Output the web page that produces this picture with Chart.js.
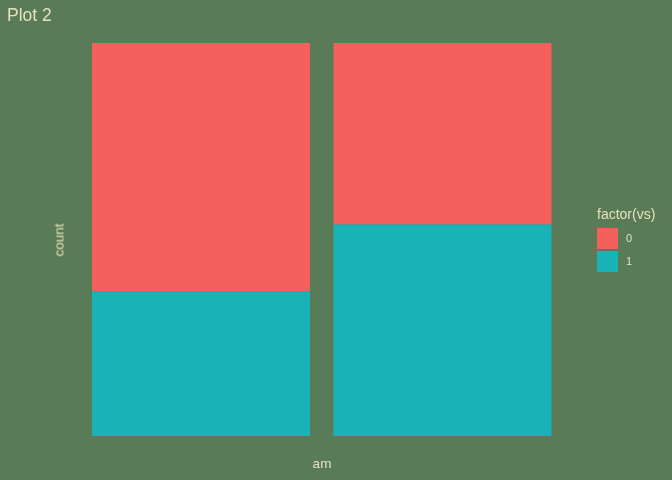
<!DOCTYPE html>
<html><head><meta charset="utf-8">
<script src="https://cdn.jsdelivr.net/npm/chart.js@4"></script>
<style>
html,body{margin:0;padding:0;background:#5a7b58;}
#wrap{position:relative;width:672px;height:480px;font-family:"Liberation Sans",Arial,sans-serif;color:#e4e2bc;}
canvas{position:absolute;left:0;top:0;}
.t{position:absolute;white-space:nowrap;}
</style></head><body>
<div id="wrap">
<canvas id="c" width="672" height="480"></canvas>
<div class="t" style="left:7px;top:5px;font-size:17.5px;">Plot 2</div>
<div class="t" id="xt" style="left:322px;top:456px;font-size:13.5px;transform:translateX(-50%);">am</div>
<div class="t" id="yt" style="left:59px;top:240px;font-size:13.5px;transform:translate(-50%,-50%) rotate(-90deg);">count</div>
<div id="leg"></div>
</div>
<script>
const categories = ["0", "1"];        // am
const vsLevels = ["0", "1"];          // factor(vs)
const vs0 = [12/19, 6/13];            // proportion vs=0
const vs1 = [7/19, 7/13];             // proportion vs=1
const colors = ["#f4605c", "#18b2b7"];

// legend (HTML)
const leg = document.getElementById('leg');
let html = '<div class="t" style="left:597px;top:206px;font-size:14px;">factor(vs)</div>';
vsLevels.forEach((l,i)=>{
  const top = 228 + i*23;
  html += `<div style="position:absolute;left:597px;top:${top}px;width:21px;height:21px;background:${colors[i]}"></div>`;
  html += `<div class="t" style="left:626px;top:${top+4}px;font-size:11px;">${l}</div>`;
});
leg.innerHTML = html;

const ds = [
  {label: vsLevels[1], data: vs1, backgroundColor: colors[1]},
  {label: vsLevels[0], data: vs0, backgroundColor: colors[0]}
];
new Chart(document.getElementById('c'), {
  type: 'bar',
  data: {labels: categories, datasets: ds},
  options: {
    responsive: false, animation: false,
    layout: {padding: {left: 80.25, right: 108.75, top: 23.4, bottom: 24.4}},
    datasets: {bar: {barPercentage: 1.0, categoryPercentage: 0.9027, borderWidth: 0}},
    plugins: {legend: {display: false}, tooltip: {enabled: false}},
    scales: {
      x: {stacked: true, display: false, offset: true},
      y: {min: -0.05, max: 1.05, stacked: true, display: false}
    }
  }
});
</script>
</body></html>
